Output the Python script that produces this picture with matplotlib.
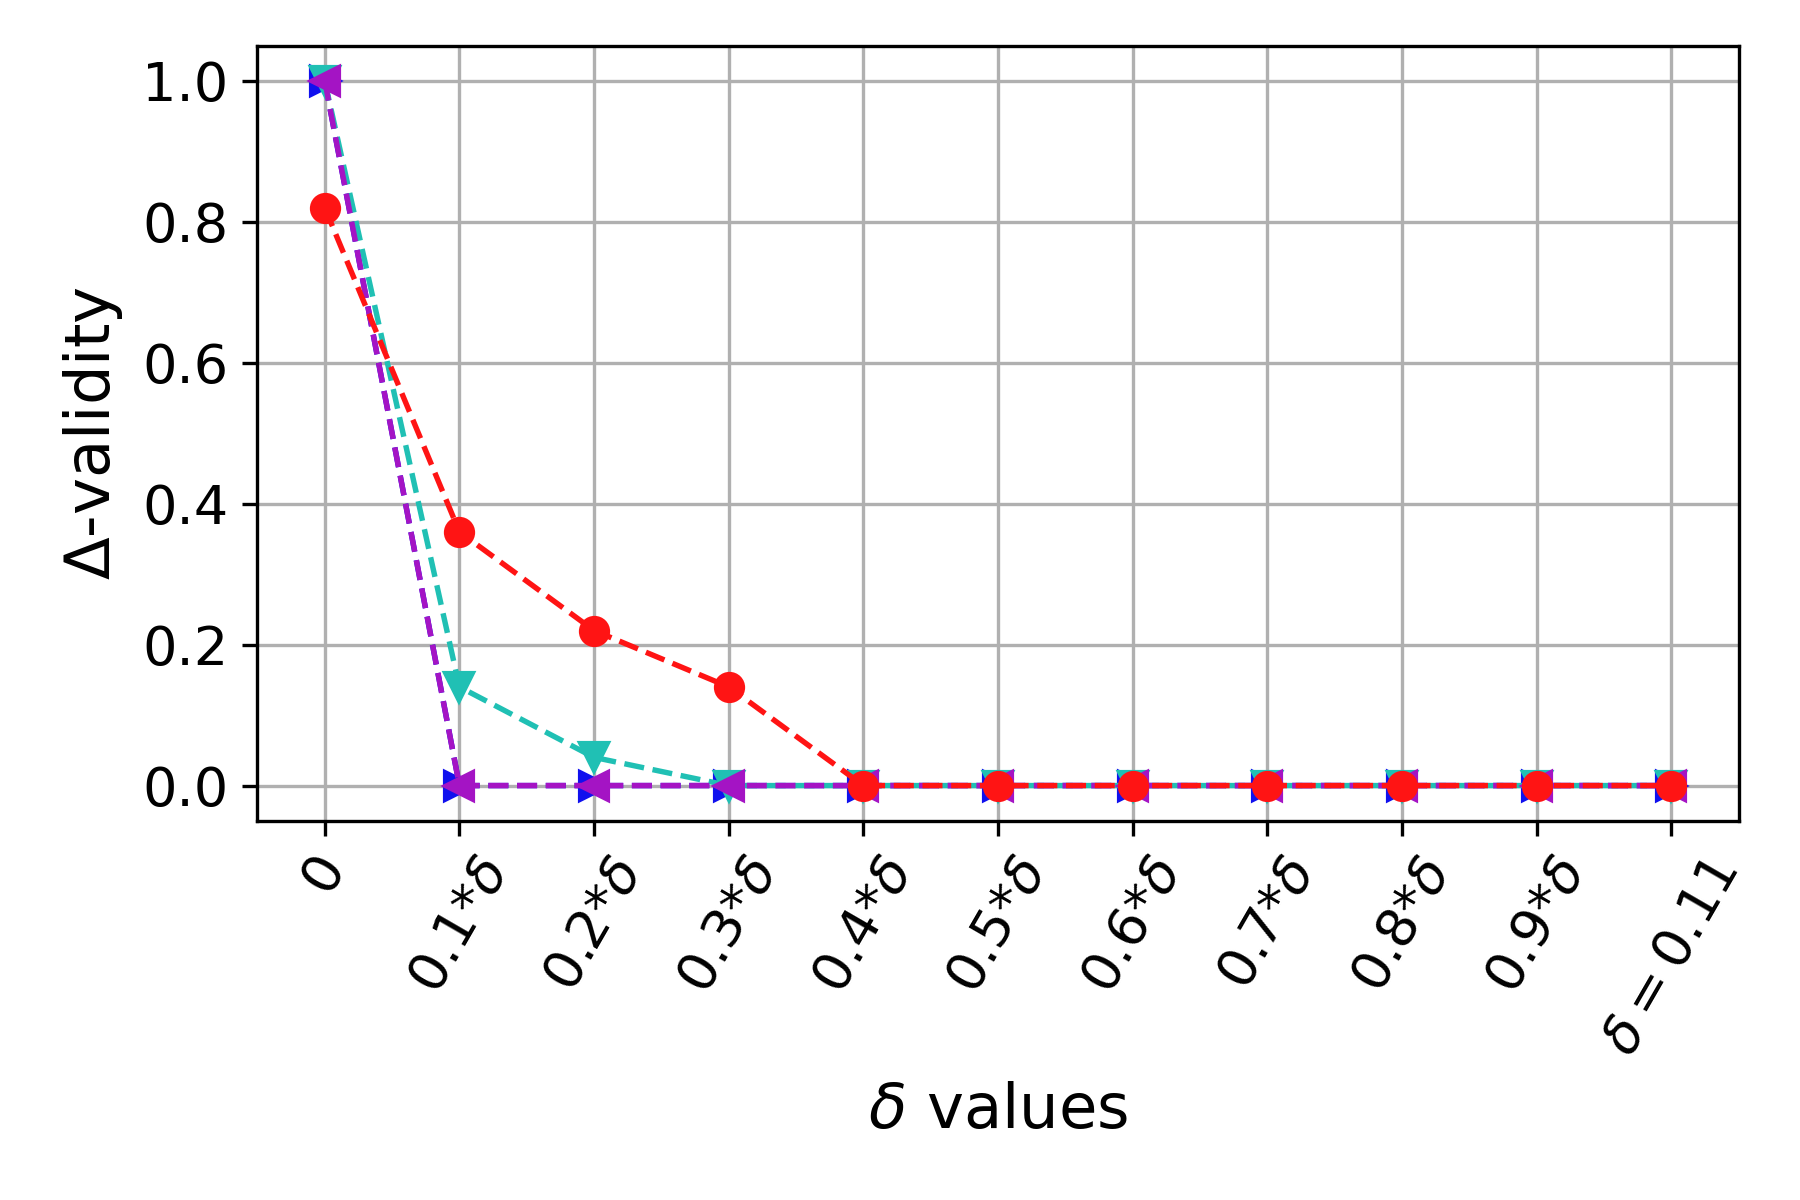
import matplotlib
matplotlib.use("Agg")
import matplotlib.pyplot as plt
import numpy as np

# tick labels on x axis
x_labels = ["$0$", r"$0.1{*}\delta$", r"$0.2{*}\delta$", r"$0.3{*}\delta$", r"$0.4{*}\delta$",
            r"$0.5{*}\delta$", r"$0.6{*}\delta$", r"$0.7{*}\delta$", r"$0.8{*}\delta$",
            r"$0.9{*}\delta$", r"$\delta=0.11$"]

# validity per series
blue_vals = [1.0, 0.0, 0.0, 0.0, 0.0, 0.0, 0.0, 0.0, 0.0, 0.0, 0.0]
cyan_vals = [1.0, 0.14, 0.04, 0.0, 0.0, 0.0, 0.0, 0.0, 0.0, 0.0, 0.0]
purple_vals = [1.0, 0.0, 0.0, 0.0, 0.0, 0.0, 0.0, 0.0, 0.0, 0.0, 0.0]
red_vals = [0.82, 0.36, 0.22, 0.14, 0.0, 0.0, 0.0, 0.0, 0.0, 0.0, 0.0]

x = np.arange(len(x_labels))

fig, ax = plt.subplots(figsize=(6, 4), dpi=300)
fig.subplots_adjust(left=0.143, right=0.966, top=0.962, bottom=0.316)

ax.plot(x, blue_vals, "--", marker=">", color="#1010ee", markersize=6.5, linewidth=1.3)
ax.plot(x, cyan_vals, "--", marker="v", color="#20c0b4", markersize=6.5, linewidth=1.3)
ax.plot(x, purple_vals, "--", marker="<", color="#a414c4", markersize=6.5, linewidth=1.3)
ax.plot(x, red_vals, "--", marker="o", color="#ff1414", markersize=6.5, linewidth=1.3)

ax.set_xticks(x)
ax.set_xticklabels(x_labels, rotation=60, fontsize=13)
ax.tick_params(axis="y", labelsize=13)
ax.set_xlabel(r"$\delta$ values", fontsize=15, labelpad=4)
ax.set_ylabel(r"$\Delta$-validity", fontsize=15)
ax.grid(True, color="#b0b0b0", linewidth=0.8)
ax.set_axisbelow(True)

plt.savefig("out.png", dpi=300)
